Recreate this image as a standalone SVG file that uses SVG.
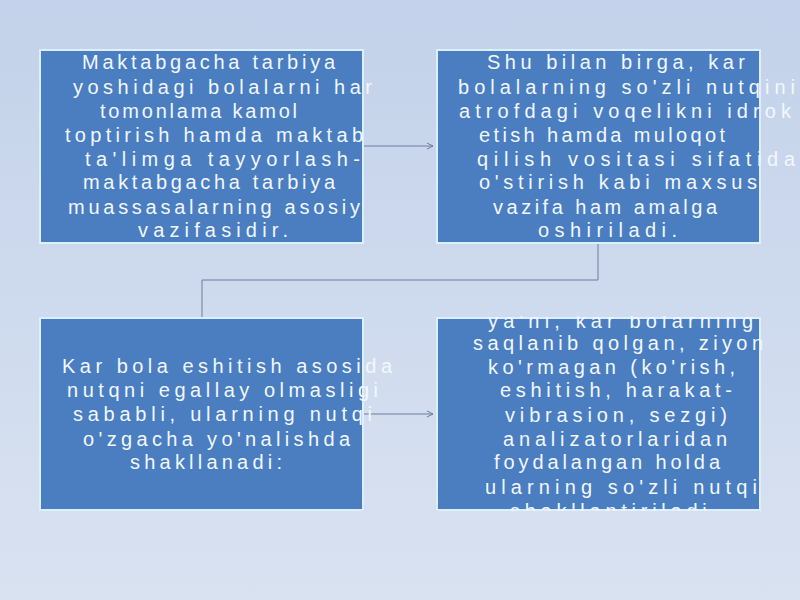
<svg xmlns="http://www.w3.org/2000/svg" width="800" height="600" viewBox="0 0 800 600">
<defs>
<linearGradient id="bg" x1="0" y1="0" x2="0" y2="1">
<stop offset="0" stop-color="#c3d2ea"/>
<stop offset="1" stop-color="#d9e2f1"/>
</linearGradient>
<marker id="arr" markerWidth="10" markerHeight="10" refX="8" refY="5" orient="auto" markerUnits="userSpaceOnUse">
<path d="M2,2 L8,5 L2,8" fill="none" stroke="#6d7f9c" stroke-width="1"/>
</marker>
<clipPath id="c4"><rect x="420" y="316" width="380" height="195"/></clipPath>
<style>
.box{fill:#4a7ec0;stroke:#dcefff;stroke-width:2}
.t{font-family:"Liberation Sans",Arial,sans-serif;font-size:20px;fill:#f2f7ff}
.ln{fill:none;stroke:#6d7f9c;stroke-width:1}
</style>
</defs>
<rect width="800" height="600" fill="url(#bg)"/>
<g id="connectors">
<line class="ln" x1="363" y1="146" x2="433" y2="146" marker-end="url(#arr)"/>
<polyline class="ln" points="598,243 598,280 202,280 202,318"/>
<line class="ln" x1="363" y1="414" x2="433" y2="414" marker-end="url(#arr)"/>
</g>
<g id="node1">
<rect class="box" x="40" y="50" width="323" height="193"/>
<text class="t" x="82" y="69" textLength="253" lengthAdjust="spacing">Maktabgacha tarbiya</text>
<text class="t" x="73" y="94" textLength="299" lengthAdjust="spacing">yoshidagi bolalarni har</text>
<text class="t" x="100" y="118" textLength="197" lengthAdjust="spacing">tomonlama kamol</text>
<text class="t" x="65" y="142" textLength="298" lengthAdjust="spacing">toptirish hamda maktab</text>
<text class="t" x="85" y="166" textLength="275" lengthAdjust="spacing">ta'limga tayyorlash-</text>
<text class="t" x="83" y="189" textLength="252" lengthAdjust="spacing">maktabgacha tarbiya</text>
<text class="t" x="68" y="214" textLength="292" lengthAdjust="spacing">muassasalarning asosiy</text>
<text class="t" x="138" y="237" textLength="150" lengthAdjust="spacing">vazifasidir.</text>
</g>
<g id="node2">
<rect class="box" x="437" y="50" width="323" height="193"/>
<text class="t" x="487" y="69" textLength="258" lengthAdjust="spacing">Shu bilan birga, kar</text>
<text class="t" x="458" y="94" textLength="337" lengthAdjust="spacing">bolalarning so'zli nutqini</text>
<text class="t" x="459" y="118" textLength="332" lengthAdjust="spacing">atrofdagi voqelikni idrok</text>
<text class="t" x="479" y="142" textLength="246" lengthAdjust="spacing">etish hamda muloqot</text>
<text class="t" x="477" y="166" textLength="318" lengthAdjust="spacing">qilish vositasi sifatida</text>
<text class="t" x="479" y="189" textLength="278" lengthAdjust="spacing">o'stirish kabi maxsus</text>
<text class="t" x="493" y="214" textLength="224" lengthAdjust="spacing">vazifa ham amalga</text>
<text class="t" x="538" y="237" textLength="139" lengthAdjust="spacing">oshiriladi.</text>
</g>
<g id="node3">
<rect class="box" x="40" y="318" width="323" height="192"/>
<text class="t" x="62" y="373" textLength="330" lengthAdjust="spacing">Kar bola eshitish asosida</text>
<text class="t" x="67" y="397" textLength="311" lengthAdjust="spacing">nutqni egallay olmasligi</text>
<text class="t" x="73" y="421" textLength="299" lengthAdjust="spacing">sababli, ularning nutqi</text>
<text class="t" x="83" y="446" textLength="267" lengthAdjust="spacing">o'zgacha yo'nalishda</text>
<text class="t" x="130" y="469" textLength="152" lengthAdjust="spacing">shakllanadi:</text>
</g>
<g id="node4">
<rect class="box" x="437" y="318" width="323" height="192"/>
<g clip-path="url(#c4)">
<text class="t" x="488" y="328" textLength="265" lengthAdjust="spacing">ya'ni, kar bolarning</text>
<text class="t" x="473" y="350" textLength="290" lengthAdjust="spacing">saqlanib qolgan, ziyon</text>
<text class="t" x="488" y="374" textLength="247" lengthAdjust="spacing">ko'rmagan (ko'rish,</text>
<text class="t" x="500" y="397" textLength="232" lengthAdjust="spacing">eshitish, harakat-</text>
<text class="t" x="505" y="422" textLength="222" lengthAdjust="spacing">vibrasion, sezgi)</text>
<text class="t" x="503" y="446" textLength="224" lengthAdjust="spacing">analizatorlaridan</text>
<text class="t" x="494" y="469" textLength="226" lengthAdjust="spacing">foydalangan holda</text>
<text class="t" x="485" y="494" textLength="272" lengthAdjust="spacing">ularning so'zli nutqi</text>
<text class="t" x="510" y="518" textLength="207" lengthAdjust="spacing">shakllantiriladi.</text>
</g>
</g>
</svg>
